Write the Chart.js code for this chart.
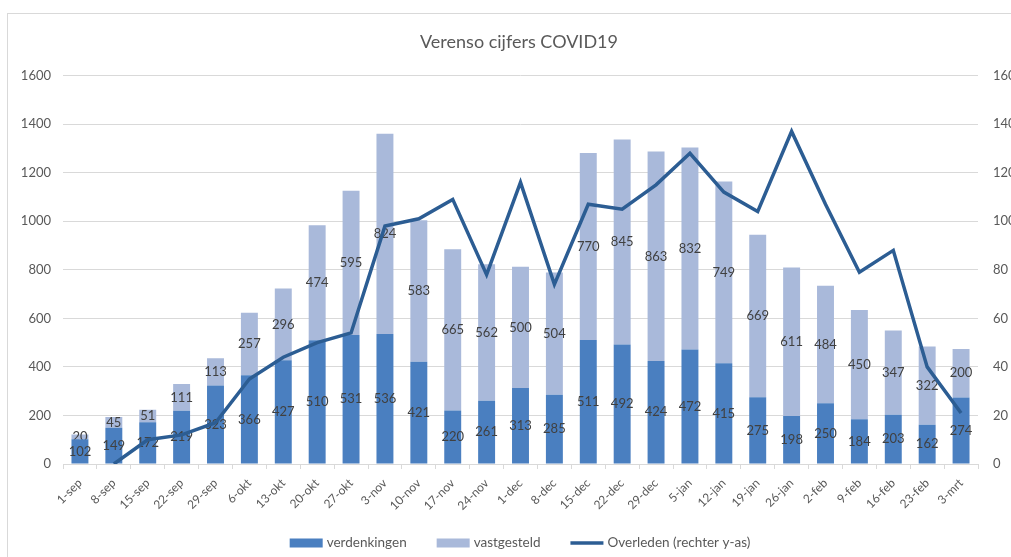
<!DOCTYPE html>
<html>
<head>
<meta charset="utf-8">
<script src="https://cdn.jsdelivr.net/npm/chart.js@4"></script>
<style>
  html, body { margin: 0; padding: 0; overflow: hidden; background: #fff; }
  #wrap { position: relative; width: 1011px; height: 557px; overflow: hidden; }
  #frame { position: absolute; left: 7px; top: 13px; width: 1100px; height: 700px; border: 1px solid #d9d9d9; pointer-events: none; }
  canvas { position: absolute; left: 0; top: 0; }
</style>
</head>
<body>
<div id="wrap">
  <canvas id="myChart" width="1038" height="557"></canvas>
  <div id="frame"></div>
</div>
<script>
var weeks = ["1-sep","8-sep","15-sep","22-sep","29-sep","6-okt","13-okt","20-okt","27-okt","3-nov","10-nov","17-nov","24-nov","1-dec","8-dec","15-dec","22-dec","29-dec","5-jan","12-jan","19-jan","26-jan","2-feb","9-feb","16-feb","23-feb","3-mrt"]
var verdenkingen = [102,149,172,219,323,366,427,510,531,536,421,220,261,313,285,511,492,424,472,415,275,198,250,184,203,162,274]
var vastgesteld = [20,45,51,111,113,257,296,474,595,824,583,665,562,500,504,770,845,863,832,749,669,611,484,450,347,322,200]
var overleden = [null,0,10,12,17,35,44,50,54,98,101,109,78,116,74,107,105,115,128,112,104,137,107,79,88,40,21]

var font = "Lato, 'Open Sans', sans-serif"

// waarden midden in elk staafdeel
var barLabels = {
    id: 'barLabels',
    afterDatasetDraw: function(chart, args){
        var ds = chart.data.datasets[args.index]
        if (ds.type !== 'bar') return
        var ctx = chart.ctx
        ctx.save()
        ctx.font = "13px " + font
        ctx.fillStyle = "#404040"
        ctx.textAlign = "center"
        ctx.textBaseline = "middle"
        args.meta.data.forEach(function(bar, i){
            var v = ds.data[i]
            if (v == null) return
            ctx.fillText(v, bar.x, (bar.y + bar.base) / 2)
        })
        ctx.restore()
    }
}

// legenda onderaan, zelf getekend (grotere afstand tussen items)
var bottomLegend = {
    id: 'bottomLegend',
    afterDraw: function(chart){
        var ctx = chart.ctx
        var sets = chart.data.datasets
        var boxW = 33, gapText = 4, gapItem = 30, y = 543
        ctx.save()
        ctx.font = "13.5px " + font
        var total = 0
        sets.forEach(function(ds, i){
            total += boxW + gapText + ctx.measureText(ds.label).width
            if (i < sets.length - 1) total += gapItem
        })
        var x = 520 - total / 2
        sets.forEach(function(ds){
            if (ds.type === 'line') {
                ctx.strokeStyle = ds.borderColor
                ctx.lineWidth = 3.5
                ctx.beginPath()
                ctx.moveTo(x, y)
                ctx.lineTo(x + boxW, y)
                ctx.stroke()
            } else {
                ctx.fillStyle = ds.backgroundColor
                ctx.fillRect(x, y - 4.5, boxW, 9)
            }
            x += boxW + gapText
            ctx.fillStyle = "#595959"
            ctx.textAlign = "left"
            ctx.textBaseline = "middle"
            ctx.fillText(ds.label, x, y)
            x += ctx.measureText(ds.label).width + gapItem
        })
        ctx.restore()
    }
}

var ctx = document.getElementById("myChart").getContext('2d')
var chart = new Chart(ctx, {
    type: 'bar',
    data: {
        labels: weeks,
        datasets: [
            {
                type: 'bar',
                label: "verdenkingen",
                data: verdenkingen,
                backgroundColor: "#4a7fc0",
                order: 1
            },
            {
                type: 'bar',
                label: "vastgesteld",
                data: vastgesteld,
                backgroundColor: "#a9b9da",
                order: 1
            },
            {
                type: 'line',
                label: "Overleden (rechter y-as)",
                data: overleden,
                yAxisID: 'y1',
                borderColor: "#2c5d93",
                backgroundColor: "#2c5d93",
                borderWidth: 3.5,
                pointRadius: 0,
                tension: 0,
                order: 0
            }
        ]
    },
    options: {
        responsive: false,
        animation: false,
        devicePixelRatio: 1,
        barPercentage: 0.5,
        categoryPercentage: 1,
        layout: { padding: { left: 0, right: 0, top: 13, bottom: 33 } },
        plugins: {
            title: {
                display: true,
                text: "Verenso cijfers COVID19",
                color: "#595959",
                font: { family: font, size: 18, weight: 'normal' },
                padding: { top: 18, bottom: 23 }
            },
            legend: { display: false },
            tooltip: { enabled: false }
        },
        scales: {
            x: {
                stacked: true,
                grid: { offset: true, drawOnChartArea: false, drawTicks: true, tickLength: 5, color: "#d9d9d9" },
                border: { color: "#d9d9d9" },
                ticks: { color: "#595959", font: { family: font, size: 12 }, minRotation: 45, maxRotation: 45, autoSkip: false, padding: 7 },
                afterFit: function(s){ s.height = 60 }
            },
            y: {
                stacked: true,
                min: 0, max: 1600,
                ticks: { stepSize: 200, color: "#595959", font: { family: font, size: 13 }, padding: 12,
                         callback: function(v){ return String(v) } },
                grid: { color: "#d9d9d9", drawTicks: false },
                border: { display: false },
                afterFit: function(s){ s.width = 63 }
            },
            y1: {
                position: 'right',
                stacked: false,
                min: 0, max: 160,
                ticks: { stepSize: 20, color: "#595959", font: { family: font, size: 13 }, padding: 15,
                         callback: function(v){ return String(v) } },
                grid: { drawOnChartArea: false, drawTicks: false },
                border: { display: false },
                afterFit: function(s){ s.width = 60 }
            }
        }
    },
    plugins: [barLabels, bottomLegend]
})
</script>
</body>
</html>
